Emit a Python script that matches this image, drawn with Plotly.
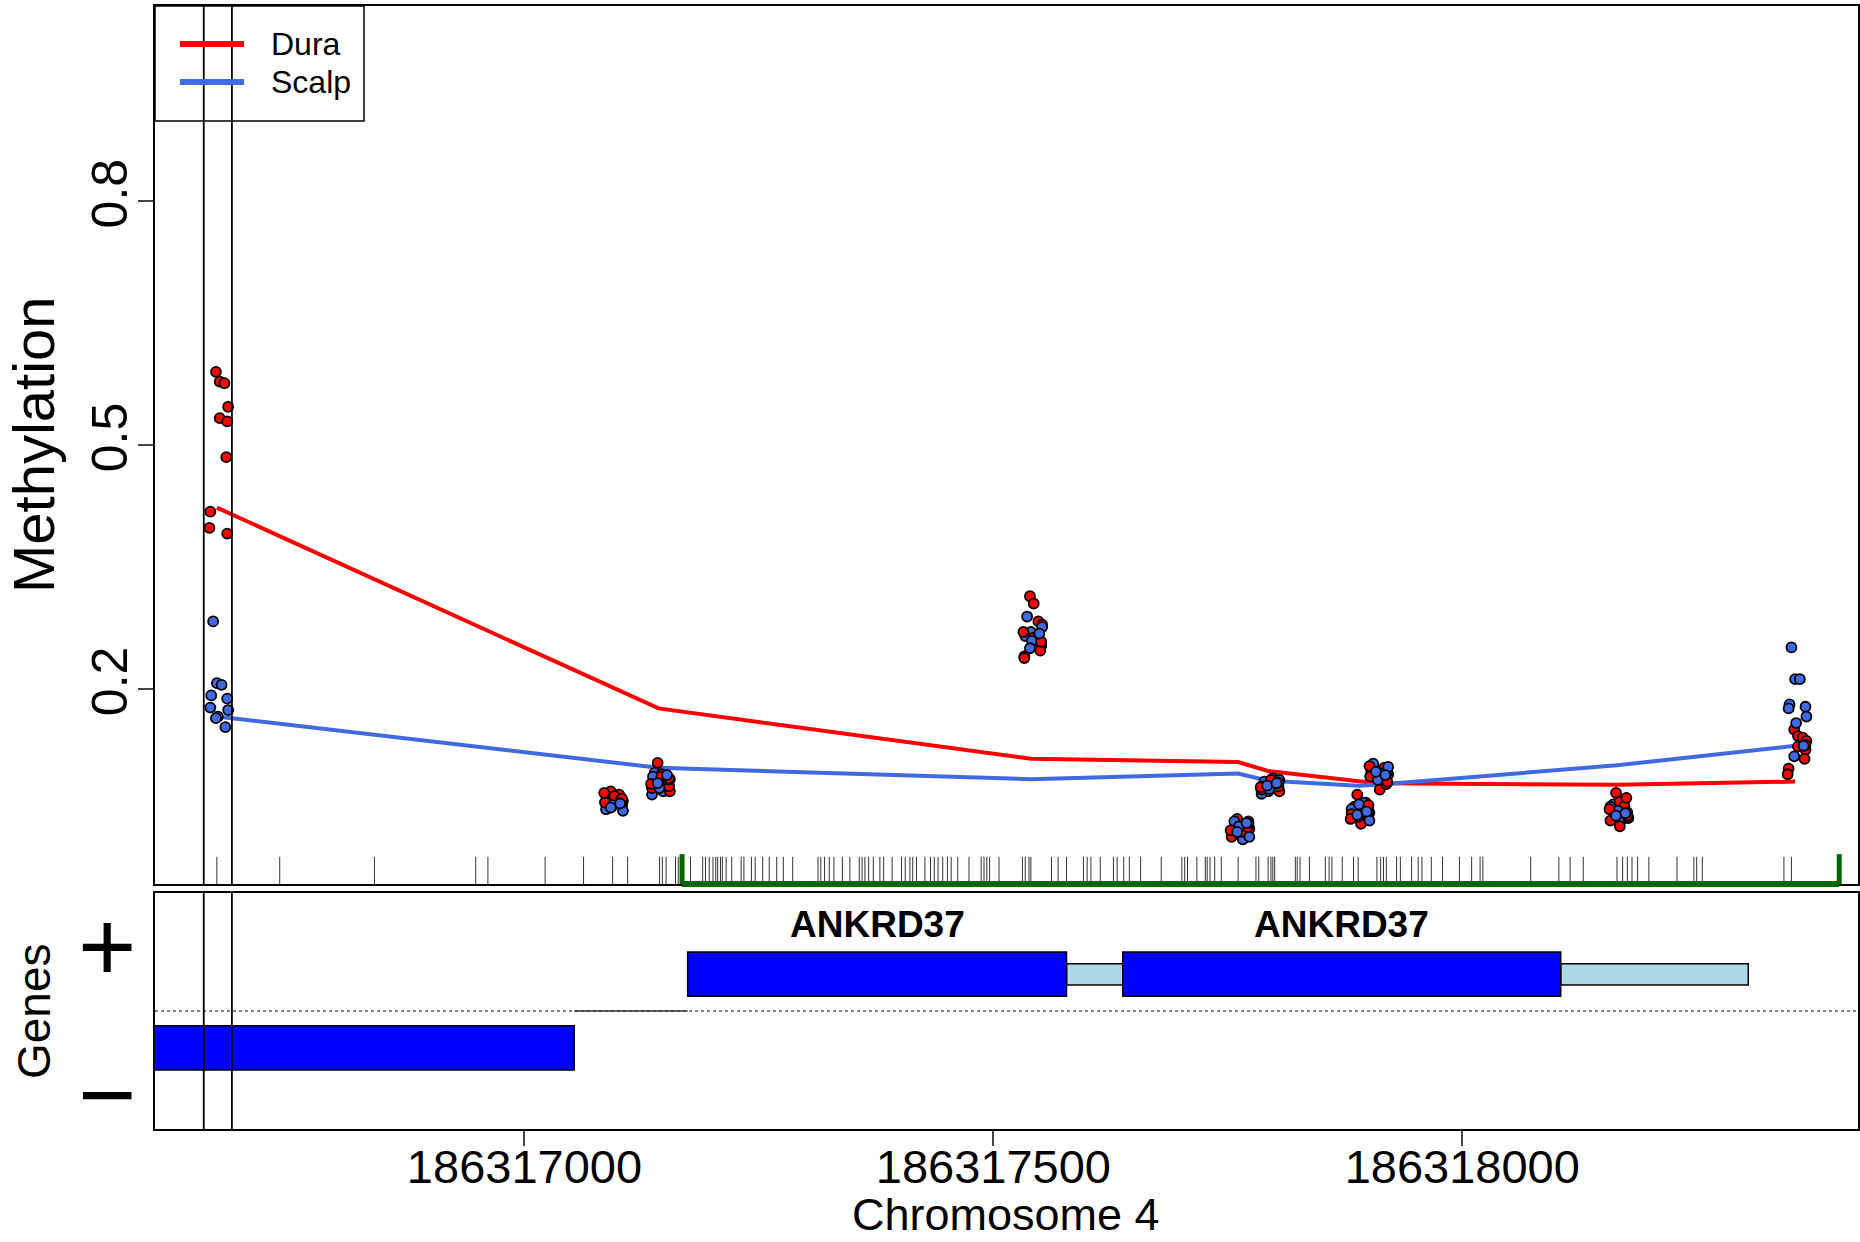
import plotly.graph_objects as go

W, H = 1860, 1242
FONT = "Liberation Sans, Arial, sans-serif"
RED = "#FF0000"
BLUE = "#4169E1"

# measured CpG sites on chromosome 4
cpg_pos = [186316672, 186317093, 186317143, 186317540, 186317761,
           186317793, 186317889, 186317909, 186318165, 186318355]

# smoothed group means at each site
dura_mean = [0.423, 0.203, 0.176, 0.114, 0.110, 0.099, 0.086, 0.084, 0.082, 0.086]
scalp_mean = [0.166, 0.109, 0.103, 0.089, 0.096, 0.087, 0.081, 0.082, 0.106, 0.130]

# per-sample methylation at each site
dura_1 = [0.590, 0.578, 0.576, 0.547, 0.533, 0.529, 0.485, 0.418, 0.398, 0.391]
dura_2 = [0.074, 0.066, 0.070, 0.062, 0.068, 0.058, 0.064, 0.060, 0.072, 0.065]
dura_3 = [0.109, 0.095, 0.086, 0.074, 0.092, 0.080, 0.088, 0.078, 0.083, 0.090]
dura_4 = [0.314, 0.305, 0.283, 0.279, 0.263, 0.253, 0.247, 0.238, 0.270, 0.258]
dura_5 = [0.040, 0.020, 0.033, 0.028, 0.024, 0.037, 0.030, 0.018, 0.026, 0.035]
dura_6 = [0.082, 0.086, 0.078, 0.074, 0.088, 0.080, 0.084, 0.076, 0.079, 0.085]
dura_7 = [0.070, 0.034, 0.060, 0.048, 0.055, 0.042, 0.052, 0.046, 0.040, 0.057]
dura_8 = [0.101, 0.076, 0.103, 0.095, 0.088, 0.098, 0.083, 0.092, 0.105, 0.086]
dura_9 = [0.072, 0.061, 0.056, 0.041, 0.031, 0.048, 0.066, 0.038, 0.052, 0.044]
dura_10 = [0.150, 0.142, 0.140, 0.136, 0.129, 0.125, 0.114, 0.102, 0.095, 0.131]

scalp_1 = [0.283, 0.207, 0.205, 0.192, 0.188, 0.177, 0.174, 0.166, 0.164, 0.153]
scalp_2 = [0.060, 0.055, 0.063, 0.052, 0.058, 0.061, 0.050, 0.057, 0.054, 0.059]
scalp_3 = [0.097, 0.086, 0.074, 0.092, 0.081, 0.070, 0.089, 0.078, 0.084, 0.094]
scalp_4 = [0.289, 0.270, 0.263, 0.265, 0.255, 0.240, 0.276, 0.259, 0.250, 0.268]
scalp_5 = [0.037, 0.029, 0.015, 0.022, 0.033, 0.026, 0.018, 0.031, 0.024, 0.035]
scalp_6 = [0.086, 0.074, 0.090, 0.080, 0.083, 0.071, 0.088, 0.077, 0.081, 0.084]
scalp_7 = [0.055, 0.043, 0.060, 0.050, 0.047, 0.052, 0.038, 0.058, 0.045, 0.049]
scalp_8 = [0.108, 0.090, 0.096, 0.100, 0.085, 0.093, 0.104, 0.088, 0.098, 0.094]
scalp_9 = [0.058, 0.049, 0.039, 0.053, 0.046, 0.055, 0.042, 0.050, 0.044, 0.047]
scalp_10 = [0.251, 0.212, 0.212, 0.181, 0.178, 0.176, 0.166, 0.158, 0.117, 0.130]

# horizontal jitter of the samples (bp)
dura_jit = [-1, 3, 8, 12, 3, 11, 10, -7, -8, 11]
scalp_jit = [-4, 0, 5, -6, 11, -7, 12, 1, -1, 9]

# every CpG in the region (rug)
rug_pos = [
    186316672, 186316739, 186316840, 186316948, 186316961, 186317022, 186317063,
    186317094, 186317110, 186317144, 186317147, 186317151, 186317161, 186317164,
    186317177, 186317190, 186317193, 186317197, 186317201, 186317204, 186317206,
    186317209, 186317211, 186317215, 186317221, 186317231, 186317234, 186317242,
    186317246, 186317254, 186317261, 186317269, 186317276, 186317286, 186317313,
    186317316, 186317320, 186317325, 186317330, 186317339, 186317347, 186317357,
    186317360, 186317363, 186317367, 186317372, 186317379, 186317383, 186317392,
    186317402, 186317406, 186317411, 186317414, 186317418, 186317427, 186317433,
    186317437, 186317441, 186317446, 186317451, 186317455, 186317462, 186317474,
    186317487, 186317490, 186317493, 186317496, 186317506, 186317531, 186317534,
    186317538, 186317540, 186317562, 186317569, 186317578, 186317596, 186317600,
    186317604, 186317614, 186317628, 186317632, 186317639, 186317645, 186317657,
    186317679, 186317701, 186317704, 186317707, 186317717, 186317726, 186317728,
    186317731, 186317736, 186317743, 186317761, 186317780, 186317783, 186317793,
    186317796, 186317798, 186317800, 186317822, 186317824, 186317827, 186317837,
    186317854, 186317858, 186317861, 186317872, 186317884, 186317889, 186317909,
    186317913, 186317916, 186317919, 186317930, 186317934, 186317946, 186317953,
    186317957, 186317967, 186317979, 186317997, 186318010, 186318019, 186318022,
    186318073, 186318103, 186318115, 186318129, 186318165, 186318171, 186318176,
    186318181, 186318187, 186318199, 186318229, 186318247, 186318250, 186318256,
    186318343, 186318351,
]

# CpG island
island = [186317168, 186318402]

# genes
minus_gene = [186316300, 186317053]
minus_link = [186317053, 186317174]
plus_exons = [[186317174, 186317578], [186317638, 186318105]]
plus_utrs = [[186317578, 186317638], [186318105, 186318305]]
gene_names = ["ANKRD37", "ANKRD37"]

# highlighted window
marks = [186316658, 186316688]

x_range = [186316606, 186318422]
x_ticks = [186317000, 186317500, 186318000]
y_ticks = [0.2, 0.5, 0.8]
groups = ["Dura", "Scalp"]


def px(x):
    return x / W


def py(y):
    return 1 - y / H


dura_vals = [dura_1, dura_2, dura_3, dura_4, dura_5, dura_6, dura_7, dura_8, dura_9, dura_10]
scalp_vals = [scalp_1, scalp_2, scalp_3, scalp_4, scalp_5, scalp_6, scalp_7, scalp_8, scalp_9, scalp_10]

fig = go.Figure()

fig.add_trace(go.Scatter(x=cpg_pos, y=dura_mean, mode="lines",
                         line=dict(color=RED, width=4), xaxis="x", yaxis="y"))
fig.add_trace(go.Scatter(x=cpg_pos, y=scalp_mean, mode="lines",
                         line=dict(color=BLUE, width=4), xaxis="x", yaxis="y"))

pts_x, pts_y, pts_c = [], [], []
for k, pos in enumerate(cpg_pos):
    for i in range(len(dura_jit)):
        pts_x.append(pos + dura_jit[i]); pts_y.append(dura_vals[k][i]); pts_c.append(RED)
        pts_x.append(pos + scalp_jit[i]); pts_y.append(scalp_vals[k][i]); pts_c.append(BLUE)
fig.add_trace(go.Scatter(x=pts_x, y=pts_y, mode="markers", xaxis="x", yaxis="y",
                         marker=dict(size=10, color=pts_c, line=dict(color="black", width=1.8))))

shapes = []
# rug
for p in rug_pos:
    shapes.append(dict(type="line", xref="x", yref="y domain", x0=p, x1=p, y0=0, y1=0.031,
                       line=dict(color="#333333", width=1)))
# CpG island
shapes.append(dict(type="line", xref="x", yref="y domain", x0=island[0], x1=island[1], y0=0, y1=0,
                   line=dict(color="#006400", width=6)))
for p in island:
    shapes.append(dict(type="line", xref="x", yref="y domain", x0=p, x1=p, y0=0, y1=0.034,
                       line=dict(color="#006400", width=5)))

# gene track
shapes.append(dict(type="line", xref="x2 domain", yref="y2", x0=0, x1=1, y0=0, y1=0,
                   line=dict(color="black", width=1, dash="dot")))
shapes.append(dict(type="line", xref="x2", yref="y2", x0=minus_link[0], x1=minus_link[1], y0=0, y1=0,
                   line=dict(color="#333333", width=1.5)))
shapes.append(dict(type="rect", xref="x2", yref="y2", x0=minus_gene[0], x1=minus_gene[1], y0=-0.5, y1=-0.125,
                   fillcolor="#0000FF", line=dict(color="black", width=1.5)))
for a, b in plus_utrs:
    shapes.append(dict(type="rect", xref="x2", yref="y2", x0=a, x1=b, y0=0.22, y1=0.40,
                       fillcolor="#ADD8E6", line=dict(color="black", width=1.5)))
for a, b in plus_exons:
    shapes.append(dict(type="rect", xref="x2", yref="y2", x0=a, x1=b, y0=0.125, y1=0.5,
                       fillcolor="#0000FF", line=dict(color="black", width=1.5)))

# highlighted window lines in both panels
for p in marks:
    for ax in ("y", "y2"):
        shapes.append(dict(type="line", xref="x" if ax == "y" else "x2", yref=ax + " domain",
                           x0=p, x1=p, y0=0, y1=1, line=dict(color="black", width=1.8)))

# legend box
shapes.append(dict(type="rect", xref="paper", yref="paper", x0=px(155), x1=px(364), y0=py(121), y1=py(6),
                   line=dict(color="black", width=1.5)))
shapes.append(dict(type="line", xref="paper", yref="paper", x0=px(180), x1=px(244), y0=py(44), y1=py(44),
                   line=dict(color=RED, width=6)))
shapes.append(dict(type="line", xref="paper", yref="paper", x0=px(180), x1=px(244), y0=py(82), y1=py(82),
                   line=dict(color=BLUE, width=6)))

annotations = [
    dict(text=groups[0], xref="paper", yref="paper", x=px(269), y=py(44), xanchor="left", yanchor="middle",
         showarrow=False, font=dict(size=32, color="black", family=FONT)),
    dict(text=groups[1], xref="paper", yref="paper", x=px(269), y=py(82), xanchor="left", yanchor="middle",
         showarrow=False, font=dict(size=32, color="black", family=FONT)),
    dict(text="Methylation", xref="paper", yref="paper", x=px(33), y=py(445), textangle=-90,
         xanchor="center", yanchor="middle", showarrow=False, font=dict(size=58, color="black", family=FONT)),
    dict(text="Genes", xref="paper", yref="paper", x=px(34), y=py(1011), textangle=-90,
         xanchor="center", yanchor="middle", showarrow=False, font=dict(size=46, color="black", family=FONT)),
    dict(text="Chromosome 4", xref="paper", yref="paper", x=px(1006), y=py(1242),
         xanchor="center", yanchor="bottom", showarrow=False, font=dict(size=45, color="black", family=FONT)),
    dict(text="+", xref="paper", yref="paper", x=px(107), y=py(946),
         xanchor="center", yanchor="middle", showarrow=False, font=dict(size=100, color="black", family=FONT)),
    dict(text="\u2212", xref="paper", yref="paper", x=px(107), y=py(1094),
         xanchor="center", yanchor="middle", showarrow=False, font=dict(size=100, color="black", family=FONT)),
]
for (a, b), name in zip(plus_exons, gene_names):
    annotations.append(dict(text="<b>" + name + "</b>", xref="x2", yref="y2", x=(a + b) / 2, y=0.733,
                            xanchor="center", yanchor="middle", showarrow=False,
                            font=dict(size=37, color="black", family=FONT)))

axis_common = dict(showgrid=False, zeroline=False, showline=True, mirror=True,
                   linecolor="black", linewidth=2)

fig.update_layout(
    width=W, height=H,
    margin=dict(l=0, r=0, t=0, b=0),
    plot_bgcolor="white", paper_bgcolor="white",
    showlegend=False,
    font=dict(family=FONT, color="black"),
    xaxis=dict(domain=[px(155), px(1858)], range=x_range, anchor="y",
               showticklabels=False, ticks="", **axis_common),
    yaxis=dict(domain=[py(884), py(6)], range=[-0.04, 1.04], anchor="x",
               tickvals=y_ticks, ticktext=[str(v) for v in y_ticks], ticks="outside",
               ticklen=15, tickwidth=2, tickangle=-90, ticklabelstandoff=-9,
               tickfont=dict(size=50, family=FONT), **axis_common),
    xaxis2=dict(domain=[px(155), px(1858)], range=x_range, anchor="y2", matches="x",
                tickvals=x_ticks, ticktext=[str(v) for v in x_ticks], ticks="outside",
                ticklen=15, tickwidth=2, ticklabelstandoff=-19,
                tickfont=dict(size=47, family=FONT), **axis_common),
    yaxis2=dict(domain=[py(1129), py(893)], range=[-1, 1], anchor="x2",
                showticklabels=False, ticks="", **axis_common),
    shapes=shapes,
    annotations=annotations,
)

fig.write_html("out.html", config={"displayModeBar": False},
               post_script="document.body.style.margin='0';")
